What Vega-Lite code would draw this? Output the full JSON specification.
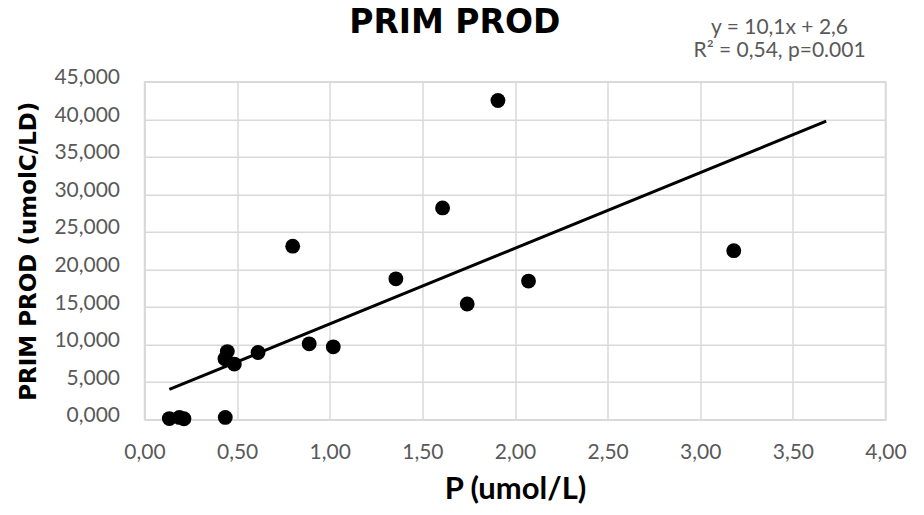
{
  "$schema": "https://vega.github.io/schema/vega-lite/v6.json",
  "width": 741,
  "height": 338,
  "autosize": {"type": "none"},
  "padding": {"left": 144.5, "top": 81.7, "right": 38, "bottom": 95},
  "background": "white",
  "config": {
    "view": {"stroke": "#d9d9d9", "strokeWidth": 1.5},
    "axis": {
      "gridColor": "#d9d9d9",
      "gridWidth": 1.5,
      "domainColor": "#d9d9d9",
      "domainWidth": 1.5,
      "ticks": false,
      "labelColor": "#595959",
      "labelFont": "Lato",
      "labelFontSize": 21,
      "labelOverlap": false,
      "labelFlush": false,
      "titleColor": "#000000"
    }
  },
  "datasets": {
    "points": [
      {"P": 0.134, "PROD": 0.15},
      {"P": 0.188, "PROD": 0.3},
      {"P": 0.213, "PROD": 0.12},
      {"P": 0.436, "PROD": 0.3},
      {"P": 0.447, "PROD": 9.07},
      {"P": 0.434, "PROD": 8.1},
      {"P": 0.485, "PROD": 7.4},
      {"P": 0.613, "PROD": 8.95},
      {"P": 0.8, "PROD": 23.1},
      {"P": 0.889, "PROD": 10.1},
      {"P": 1.019, "PROD": 9.7},
      {"P": 1.357, "PROD": 18.75},
      {"P": 1.609, "PROD": 28.2},
      {"P": 1.742, "PROD": 15.4},
      {"P": 1.908, "PROD": 42.5},
      {"P": 2.073, "PROD": 18.45},
      {"P": 3.181, "PROD": 22.5}
    ],
    "trend": [
      {"P": 0.134, "PROD": 4.03},
      {"P": 3.68, "PROD": 39.75}
    ]
  },
  "layer": [
    {
      "encoding": {
        "x": {
          "field": "P",
          "type": "quantitative",
          "scale": {"domain": [0, 4], "nice": false, "zero": false},
          "axis": {
            "values": [0, 0.5, 1, 1.5, 2, 2.5, 3, 3.5, 4],
            "labelExpr": "replace(format(datum.value, '.2f'), '.', ',')",
            "labelPadding": 22,
            "title": "P (umol/L)",
            "titleFont": "Lato",
            "titleFontSize": 31,
            "titleFontWeight": "bold",
            "titlePadding": 12
          }
        },
        "y": {
          "field": "PROD",
          "type": "quantitative",
          "scale": {"domain": [0, 45], "nice": false},
          "axis": {
            "values": [0, 5, 10, 15, 20, 25, 30, 35, 40, 45],
            "labelExpr": "replace(format(datum.value, '.3f'), '.', ',')",
            "labelPadding": 25,
            "labelOffset": -4,
            "title": "PRIM PROD (umolC/LD)",
            "titleFont": "DejaVu Sans",
            "titleFontSize": 23,
            "titleFontWeight": "bold",
            "titlePadding": 13
          }
        }
      },
      "layer": [
        {
          "data": {"name": "trend"},
          "mark": {"type": "line", "color": "#000000", "strokeWidth": 3}
        },
        {
          "data": {"name": "points"},
          "mark": {"type": "point", "shape": "circle", "filled": true, "color": "#000000", "opacity": 1, "size": 220}
        }
      ]
    },
    {
      "data": {"values": [{}]},
      "mark": {"type": "text", "font": "DejaVu Sans", "fontSize": 33, "fontWeight": "bold", "color": "#000000", "align": "center", "baseline": "middle", "clip": false},
      "encoding": {
        "x": {
          "datum": 1.675,
          "type": "quantitative",
          "scale": {"domain": [0, 4], "nice": false, "zero": false},
          "axis": {
            "values": [0, 0.5, 1, 1.5, 2, 2.5, 3, 3.5, 4],
            "labelExpr": "replace(format(datum.value, '.2f'), '.', ',')",
            "labelPadding": 22,
            "title": "P (umol/L)",
            "titleFont": "Lato",
            "titleFontSize": 31,
            "titleFontWeight": "bold",
            "titlePadding": 12
          }
        },
        "y": {
          "datum": 52.75,
          "type": "quantitative",
          "scale": {"domain": [0, 45], "nice": false},
          "axis": {
            "values": [0, 5, 10, 15, 20, 25, 30, 35, 40, 45],
            "labelExpr": "replace(format(datum.value, '.3f'), '.', ',')",
            "labelPadding": 25,
            "labelOffset": -4,
            "title": "PRIM PROD (umolC/LD)",
            "titleFont": "DejaVu Sans",
            "titleFontSize": 23,
            "titleFontWeight": "bold",
            "titlePadding": 13
          }
        },
        "text": {"value": "PRIM PROD"}
      }
    },
    {
      "data": {"values": [{}]},
      "mark": {"type": "text", "font": "Lato", "fontSize": 21, "lineHeight": 23, "color": "#595959", "align": "center", "baseline": "middle", "clip": false},
      "encoding": {
        "x": {
          "datum": 3.428,
          "type": "quantitative",
          "scale": {"domain": [0, 4], "nice": false, "zero": false},
          "axis": {
            "values": [0, 0.5, 1, 1.5, 2, 2.5, 3, 3.5, 4],
            "labelExpr": "replace(format(datum.value, '.2f'), '.', ',')",
            "labelPadding": 22,
            "title": "P (umol/L)",
            "titleFont": "Lato",
            "titleFontSize": 31,
            "titleFontWeight": "bold",
            "titlePadding": 12
          }
        },
        "y": {
          "datum": 52.2,
          "type": "quantitative",
          "scale": {"domain": [0, 45], "nice": false},
          "axis": {
            "values": [0, 5, 10, 15, 20, 25, 30, 35, 40, 45],
            "labelExpr": "replace(format(datum.value, '.3f'), '.', ',')",
            "labelPadding": 25,
            "labelOffset": -4,
            "title": "PRIM PROD (umolC/LD)",
            "titleFont": "DejaVu Sans",
            "titleFontSize": 23,
            "titleFontWeight": "bold",
            "titlePadding": 13
          }
        },
        "text": {"value": ["y = 10,1x + 2,6", "R² = 0,54, p=0.001"]}
      }
    }
  ]
}
